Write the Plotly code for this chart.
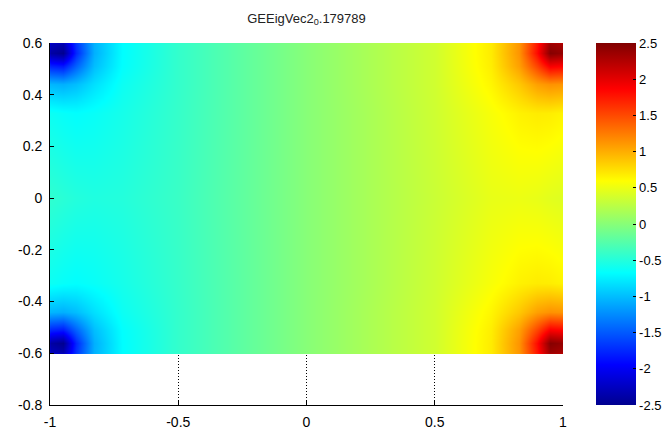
import plotly.graph_objects as go

# Sample grid (non-uniform, denser near the corners)
x_nodes = [-1, -0.995, -0.95, -0.9, -0.83, -0.72, -0.5, -0.25, 0,
           0.25, 0.5, 0.72, 0.83, 0.9, 0.95, 0.995, 1]
y_nodes = [-0.6, -0.595, -0.56, -0.51, -0.44, -0.33, 0,
           0.33, 0.44, 0.51, 0.56, 0.595, 0.6]

# Eigenvector values, one list per row of y_nodes
row_m060 = [-2.17, -2.22, -2.29, -1.67, -1.05, -0.68, -0.42, -0.21, 0.00, 0.18, 0.36, 0.69, 1.11, 1.74, 2.30, 2.24, 2.19]
row_m0595 = [-2.22, -2.28, -2.35, -1.70, -1.06, -0.68, -0.42, -0.21, 0.00, 0.18, 0.36, 0.69, 1.12, 1.77, 2.37, 2.30, 2.24]
row_m056 = [-2.32, -2.40, -2.50, -1.75, -1.07, -0.68, -0.42, -0.21, 0.00, 0.18, 0.36, 0.69, 1.13, 1.82, 2.47, 2.40, 2.32]
row_m051 = [-1.75, -1.78, -1.83, -1.46, -1.00, -0.67, -0.42, -0.21, 0.00, 0.18, 0.36, 0.68, 1.07, 1.53, 1.90, 1.86, 1.82]
row_m044 = [-1.03, -1.04, -1.07, -1.00, -0.83, -0.62, -0.42, -0.21, 0.00, 0.18, 0.36, 0.64, 0.87, 1.07, 1.14, 1.12, 1.10]
row_m033 = [-0.62, -0.62, -0.65, -0.67, -0.64, -0.57, -0.41, -0.21, 0.00, 0.17, 0.35, 0.56, 0.66, 0.69, 0.68, 0.65, 0.64]
row_0 = [-0.44, -0.44, -0.47, -0.50, -0.52, -0.50, -0.39, -0.20, 0.00, 0.17, 0.33, 0.48, 0.50, 0.48, 0.45, 0.43, 0.42]
row_p033 = [-0.62, -0.62, -0.65, -0.67, -0.64, -0.57, -0.41, -0.21, 0.00, 0.17, 0.35, 0.56, 0.66, 0.69, 0.68, 0.65, 0.64]
row_p044 = [-1.03, -1.04, -1.07, -1.00, -0.83, -0.62, -0.42, -0.21, 0.00, 0.18, 0.36, 0.64, 0.87, 1.07, 1.14, 1.12, 1.10]
row_p051 = [-1.75, -1.78, -1.83, -1.46, -1.00, -0.67, -0.42, -0.21, 0.00, 0.18, 0.36, 0.68, 1.07, 1.53, 1.90, 1.86, 1.82]
row_p056 = [-2.32, -2.40, -2.50, -1.75, -1.07, -0.68, -0.42, -0.21, 0.00, 0.18, 0.36, 0.69, 1.13, 1.82, 2.47, 2.40, 2.32]
row_p0595 = [-2.22, -2.28, -2.35, -1.70, -1.06, -0.68, -0.42, -0.21, 0.00, 0.18, 0.36, 0.69, 1.12, 1.77, 2.37, 2.30, 2.24]
row_p060 = [-2.17, -2.22, -2.29, -1.67, -1.05, -0.68, -0.42, -0.21, 0.00, 0.18, 0.36, 0.69, 1.11, 1.74, 2.30, 2.24, 2.19]

z_rows = [row_m060, row_m0595, row_m056, row_m051, row_m044, row_m033, row_0,
          row_p033, row_p044, row_p051, row_p056, row_p0595, row_p060]

# Tick labels
x_ticks = [-1, -0.5, 0, 0.5, 1]
x_tick_text = ["-1", "-0.5", "0", "0.5", "1"]
y_ticks = [-0.8, -0.6, -0.4, -0.2, 0, 0.2, 0.4, 0.6]
y_tick_text = ["-0.8", "-0.6", "-0.4", "-0.2", "0", "0.2", "0.4", "0.6"]
c_ticks = [-2.5, -2, -1.5, -1, -0.5, 0, 0.5, 1, 1.5, 2, 2.5]
c_tick_text = ["-2.5", "-2", "-1.5", "-1", "-0.5", "0", "0.5", "1", "1.5", "2", "2.5"]

jet = [[0.0, "rgb(0,0,143)"], [0.111, "rgb(0,0,255)"], [0.365, "rgb(0,255,255)"],
       [0.619, "rgb(255,255,0)"], [0.873, "rgb(255,0,0)"], [1.0, "rgb(128,0,0)"]]

W, H = 663, 429
ML, MR, MT, MB = 50, 100, 43, 24
plot_w = W - ML - MR
FONT = "Arial"

fig = go.Figure(go.Heatmap(
    x=x_nodes, y=y_nodes, z=z_rows,
    zmin=-2.5, zmax=2.5, zsmooth="best",
    colorscale=jet,
    colorbar=dict(
        x=(596 - ML) / plot_w, xanchor="left", xpad=0,
        y=0.5, yanchor="middle", ypad=0, len=1, lenmode="fraction",
        thickness=40, outlinewidth=0,
        tickmode="array", tickvals=c_ticks, ticktext=c_tick_text,
        ticks="inside", ticklen=3, tickcolor="black",
        tickfont=dict(family=FONT, size=13, color="black"),
    ),
))

axis_common = dict(
    showgrid=True, gridcolor="black", griddash="1px,2px", gridwidth=1,
    showline=True, linecolor="black", linewidth=1, mirror=False,
    zeroline=False, ticks="inside", ticklen=4, tickcolor="black",
    tickfont=dict(family=FONT, size=14, color="black"),
)

fig.update_layout(
    width=W, height=H,
    margin=dict(l=ML, r=MR, t=MT, b=MB, pad=0, autoexpand=False),
    paper_bgcolor="white", plot_bgcolor="white",
    title=dict(text="GEEigVec2<sub>0</sub>.179789", x=(ML + plot_w / 2) / W,
               xanchor="center", y=1 - 18 / H, yanchor="middle",
               font=dict(family=FONT, size=13, color="#222222")),
    xaxis=dict(range=[-1, 1], tickmode="array", tickvals=x_ticks,
               ticktext=x_tick_text, ticklabelstandoff=4, **axis_common),
    yaxis=dict(range=[-0.8, 0.6], tickmode="array", tickvals=y_ticks,
               ticktext=y_tick_text, ticklabelstandoff=4, **axis_common),
)

fig.write_html("out.html")
